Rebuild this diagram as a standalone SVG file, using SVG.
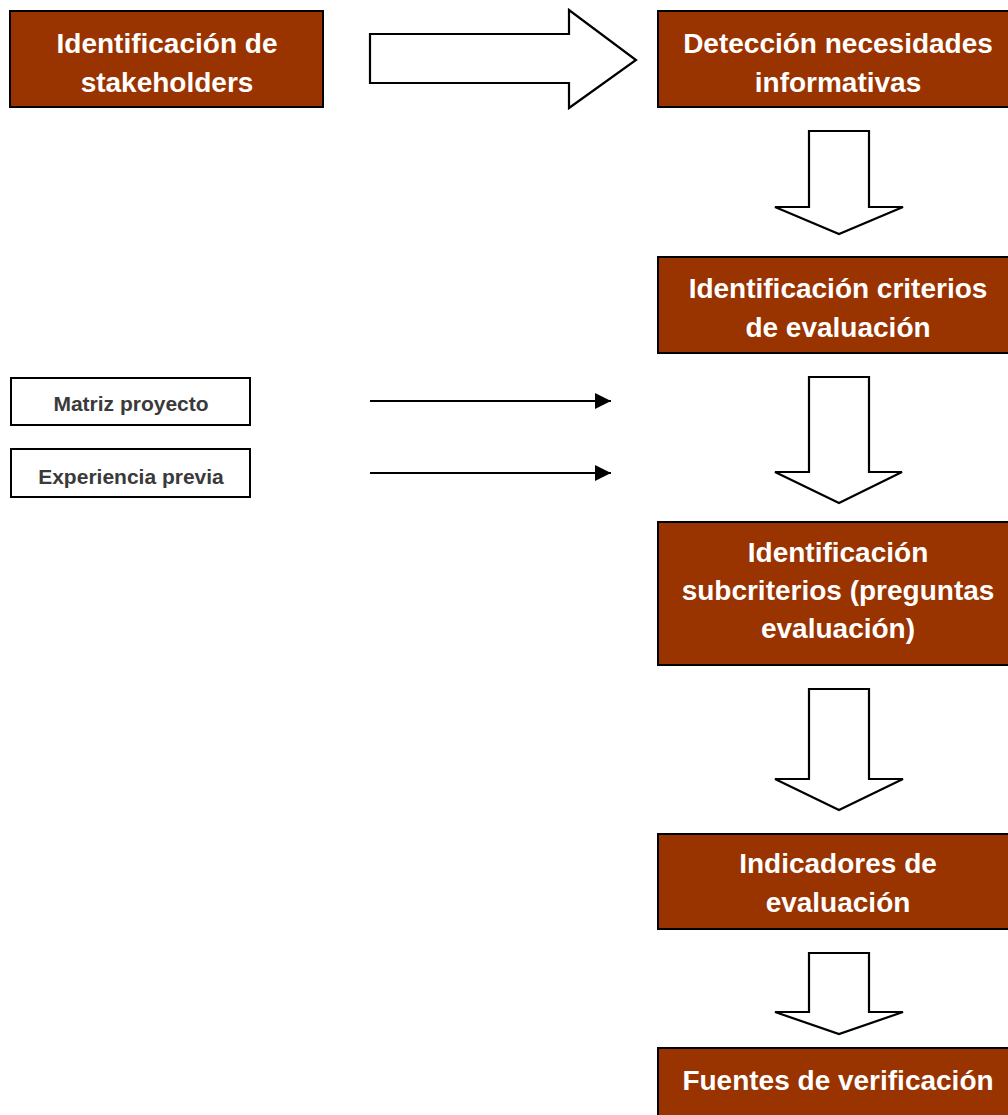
<svg xmlns="http://www.w3.org/2000/svg" width="1008" height="1115" viewBox="0 0 1008 1115">
<defs>
<style>
.box{fill:#993300;stroke:#000;stroke-width:2}
.t{font-family:"Liberation Sans",Arial,sans-serif;font-weight:bold;font-size:28px;fill:#fff;text-anchor:middle}
.sbox{fill:#fff;stroke:#000;stroke-width:2}
.st{font-family:"Liberation Sans",Arial,sans-serif;font-weight:bold;font-size:21px;fill:#3a3a3a;text-anchor:middle}
.blk{fill:#fff;stroke:#000;stroke-width:2.2;stroke-linejoin:miter}
.ln{stroke:#000;stroke-width:2;fill:none}
</style>
<marker id="ah" markerWidth="16" markerHeight="16" refX="16" refY="8" orient="auto" markerUnits="userSpaceOnUse">
<path d="M0,0 L16,8 L0,16 Z" fill="#000"/>
</marker>
</defs>
<rect width="1008" height="1115" fill="#fff"/>
<g id="n1">
<rect class="box" x="10" y="11" width="313" height="96"/>
<text class="t" x="167" y="53">Identificación de</text>
<text class="t" x="167" y="92">stakeholders</text>
</g>
<g id="n2">
<rect class="box" x="658" y="11" width="362" height="96"/>
<text class="t" x="838" y="53">Detección necesidades</text>
<text class="t" x="838" y="92">informativas</text>
</g>
<g id="n3">
<rect class="box" x="658" y="257" width="362" height="96"/>
<text class="t" x="838" y="298">Identificación criterios</text>
<text class="t" x="838" y="337">de evaluación</text>
</g>
<g id="n4">
<rect class="box" x="658" y="522" width="362" height="143"/>
<text class="t" x="838" y="562">Identificación</text>
<text class="t" x="838" y="600">subcriterios (preguntas</text>
<text class="t" x="838" y="638">evaluación)</text>
</g>
<g id="n5">
<rect class="box" x="658" y="834" width="362" height="95"/>
<text class="t" x="838" y="873">Indicadores de</text>
<text class="t" x="838" y="912">evaluación</text>
</g>
<g id="n6">
<rect class="box" x="658" y="1048" width="362" height="90"/>
<text class="t" x="838" y="1090">Fuentes de verificación</text>
</g>
<g id="n7">
<rect class="sbox" x="11" y="378" width="239" height="47"/>
<text class="st" x="131" y="411">Matriz proyecto</text>
</g>
<g id="n8">
<rect class="sbox" x="11" y="449" width="239" height="48"/>
<text class="st" x="131" y="484">Experiencia previa</text>
</g>
<g id="connectors">
<polygon class="blk" points="370,34 569,34 569,10 636,60 569,108 569,83 370,83"/>
<polygon class="blk" points="809,131 869,131 869,207 903,207 839,234 775,207 809,207"/>
<polygon class="blk" points="809,377 869,377 869,472 902,472 839,503 775,472 809,472"/>
<polygon class="blk" points="809,689 869,689 869,779 903,779 839,810 775,779 809,779"/>
<polygon class="blk" points="809,953 869,953 869,1012 903,1012 839,1034 775,1012 809,1012"/>
<line class="ln" x1="370" y1="401" x2="611" y2="401" marker-end="url(#ah)"/>
<line class="ln" x1="370" y1="473" x2="611" y2="473" marker-end="url(#ah)"/>
</g>
</svg>
